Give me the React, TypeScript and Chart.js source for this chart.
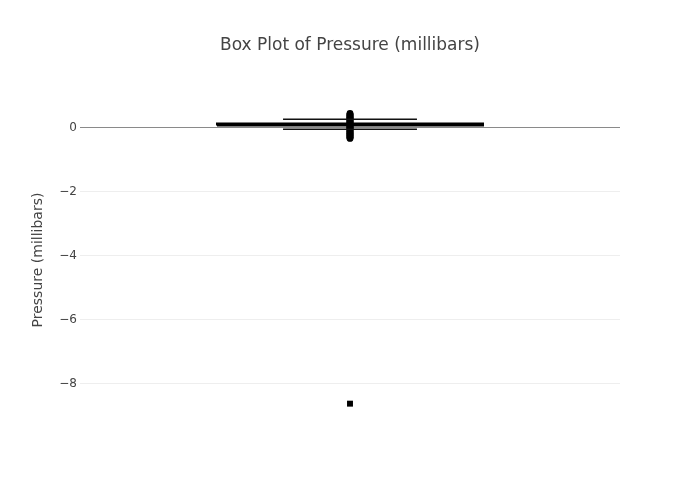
import React, { useEffect, useRef } from "react";
import { Chart, registerables } from "chart.js";

Chart.register(...registerables);

const categories = ["Pressure (millibars)"];
const q1Values = [0.065];
const medianValues = [0.095];
const q3Values = [0.125];
const lowerCapValues = [-0.05];
const upperCapValues = [0.26];
const pointValues = [
  0.44, 0.42, 0.4, 0.38, 0.36, 0.34, 0.32, 0.3, 0.28, 0.26, 0.24, 0.22, 0.2,
  0.18, 0.16, 0.14, 0.12, 0.1, 0.08, 0.06, 0.04, 0.02, 0.0, -0.02, -0.04,
  -0.06, -0.08, -0.1, -0.12, -0.14, -0.16, -0.18, -0.2, -0.22, -0.24, -0.26,
  -0.28, -0.3, -0.32, -0.34,
];
const outlierValues = [-8.62];
const yTickValues = [-8, -6, -4, -2, 0];

const BOX_HALF = 0.4926;
const CAP_HALF = 0.248;
const FONT = "'DejaVu Sans', Verdana, sans-serif";

export default function App() {
  const ref = useRef<HTMLCanvasElement | null>(null);
  useEffect(() => {
    if (!ref.current) return;
    const cx = 0;
    const q1 = q1Values[0];
    const q3 = q3Values[0];
    const chart = new Chart(ref.current, {
      type: "scatter",
      data: {
        datasets: [
          {
            label: categories[0] + " box",
            yAxisID: "y",
            data: [
              { x: cx - BOX_HALF, y: q1 },
              { x: cx + BOX_HALF, y: q1 },
              { x: cx + BOX_HALF, y: q3 },
              { x: cx - BOX_HALF, y: q3 },
              { x: cx - BOX_HALF, y: q1 },
            ],
            showLine: true,
            borderColor: "#000",
            borderWidth: 2,
            pointRadius: 0,
          },
          {
            label: "median",
            yAxisID: "y",
            data: [
              { x: cx - BOX_HALF, y: medianValues[0] },
              { x: cx + BOX_HALF, y: medianValues[0] },
            ],
            showLine: true,
            borderColor: "#000",
            borderWidth: 2,
            pointRadius: 0,
          },
          {
            label: "upper cap",
            yAxisID: "y",
            data: [
              { x: cx - CAP_HALF, y: upperCapValues[0] },
              { x: cx + CAP_HALF, y: upperCapValues[0] },
            ],
            showLine: true,
            borderColor: "#111",
            borderWidth: 1.5,
            pointRadius: 0,
          },
          {
            label: "lower cap",
            yAxisID: "y",
            data: [
              { x: cx - CAP_HALF, y: lowerCapValues[0] },
              { x: cx + CAP_HALF, y: lowerCapValues[0] },
            ],
            showLine: true,
            borderColor: "#111",
            borderWidth: 1.5,
            pointRadius: 0,
          },
          {
            label: "points",
            yAxisID: "y",
            data: pointValues.map((v) => ({ x: cx, y: v })),
            pointRadius: 3.4,
            pointStyle: "circle",
            backgroundColor: "#000",
            borderColor: "#000",
            borderWidth: 0,
          },
          {
            label: "outliers",
            yAxisID: "y",
            data: outlierValues.map((v) => ({ x: cx, y: v })),
            pointRadius: 4.2,
            pointStyle: "rect",
            backgroundColor: "#000",
            borderColor: "#000",
            borderWidth: 0,
          },
        ],
      },
      options: {
        animation: false,
        responsive: false,
        layout: { padding: { left: 0, right: 0, top: 0, bottom: 80 } },
        plugins: {
          legend: { display: false },
          tooltip: { enabled: false },
          title: {
            display: true,
            text: "Box Plot of Pressure (millibars)",
            color: "#444",
            font: { family: FONT, size: 17, weight: "normal", lineHeight: 1.2 },
            padding: { top: 35, bottom: 44.6 },
          },
        },
        scales: {
          x: { type: "linear", min: -1, max: 1, display: false },
          y: {
            type: "linear",
            position: "left",
            min: -9.13,
            max: 0.86,
            border: { display: false },
            afterFit: (scale: any) => {
              scale.width = 80;
            },
            afterBuildTicks: (scale: any) => {
              scale.ticks = yTickValues.map((v) => ({ value: v }));
            },
            grid: {
              drawTicks: false,
              color: (ctx: any) => (ctx.tick && ctx.tick.value === 0 ? "#8a8a8a" : "#eeeeee"),
              lineWidth: 1,
            },
            ticks: {
              padding: 3,
              color: "#444",
              font: { family: FONT, size: 12 },
              callback: (v: any) => (Number(v) < 0 ? "\u2212" + Math.abs(Number(v)) : String(v)),
            },
            title: {
              display: true,
              text: "Pressure (millibars)",
              color: "#444",
              font: { family: FONT, size: 14 },
              padding: { top: 30, bottom: 0 },
            },
          },
          yRight: {
            type: "linear",
            position: "right",
            display: true,
            grid: { display: false, drawTicks: false },
            border: { display: false },
            ticks: { display: false },
            afterFit: (scale: any) => {
              scale.width = 80;
            },
          },
        },
      },
    });
    return () => chart.destroy();
  }, []);
  return (
    <div style={{ position: "fixed", left: 0, top: 0, width: 700, height: 500, background: "#fff" }}>
      <canvas ref={ref} width={700} height={500} style={{ width: 700, height: 500 }} />
    </div>
  );
}
